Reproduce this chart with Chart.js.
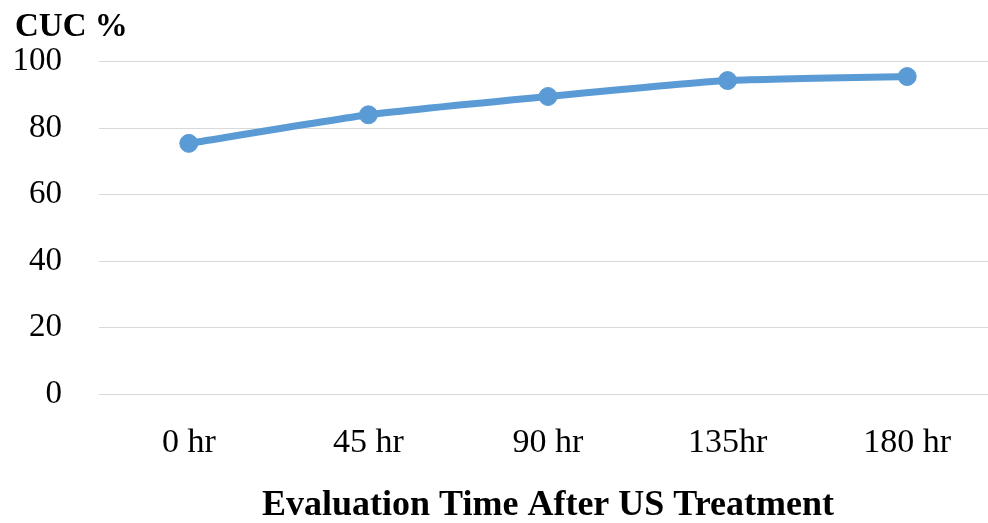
<!DOCTYPE html>
<html>
<head>
<meta charset="utf-8">
<script src="https://cdn.jsdelivr.net/npm/chart.js@4/dist/chart.umd.min.js"></script>
<style>
  html, body { margin: 0; padding: 0; background: #fff; overflow: hidden; }
  #wrap { position: relative; width: 988px; height: 523px; }
</style>
</head>
<body>
<div id="wrap"><canvas id="cucChart"></canvas></div>
<script>
// data
var timeLabels = ["0 hr", "45 hr", "90 hr", "135hr", "180 hr"];
var cucValues = [75.4, 84.0, 89.5, 94.3, 95.5];
var yTicks = [0, 20, 40, 60, 80, 100];

var serif = "'Liberation Serif', 'Times New Roman', serif";
var blue = "#5B9BD5";

// the reference is cropped: its plot area runs a little past the right edge
var plotRight = 997;
var widenPlot = {
    id: 'widenPlot',
    afterLayout: function (chart) {
        var area = chart.chartArea;
        area.right = plotRight;
        area.width = area.right - area.left;
        var x = chart.scales.x;
        x.right = plotRight;
        x.width = x.right - x.left;
        x.configure();
    }
};

var ctx = document.getElementById("cucChart");
new Chart(ctx, {
    type: 'line',
    data: {
        labels: timeLabels,
        datasets: [{
            label: "CUC %",
            data: cucValues,
            borderColor: blue,
            backgroundColor: blue,
            borderWidth: 7,
            pointRadius: 9,
            pointBorderWidth: 1,
            pointBackgroundColor: blue,
            pointBorderColor: blue,
            tension: 0.15,
            fill: false
        }]
    },
    options: {
        responsive: true,
        maintainAspectRatio: false,
        animation: false,
        layout: { padding: { left: 15, right: 1, top: 8, bottom: 0 } },
        scales: {
            x: {
                offset: true,
                grid: { display: false },
                border: { display: false },
                ticks: { color: "#000", padding: 21, font: { family: serif, size: 34 } },
                title: {
                    display: true,
                    text: "Evaluation Time After US Treatment",
                    color: "#000",
                    padding: { top: 10, bottom: -4 },
                    font: { family: serif, size: 36, weight: 'bold' }
                },
                afterFit: function (axis) { axis.height = 129; }
            },
            y: {
                min: 0,
                max: 100,
                afterBuildTicks: function (axis) {
                    axis.ticks = yTicks.map(function (v) { return { value: v }; });
                },
                grid: { color: "#d9d9d9", lineWidth: 1, drawTicks: false },
                border: { display: false },
                ticks: { color: "#000", padding: 37, font: { family: serif, size: 33 } },
                afterFit: function (axis) { axis.width = 84; }
            }
        },
        plugins: {
            legend: { display: false },
            tooltip: { enabled: false },
            title: {
                display: true,
                text: "CUC %",
                align: 'start',
                color: "#000",
                padding: { top: 0, bottom: 14 },
                font: { family: serif, size: 33, weight: 'bold' }
            }
        }
    },
    plugins: [widenPlot]
});
</script>
</body>
</html>
